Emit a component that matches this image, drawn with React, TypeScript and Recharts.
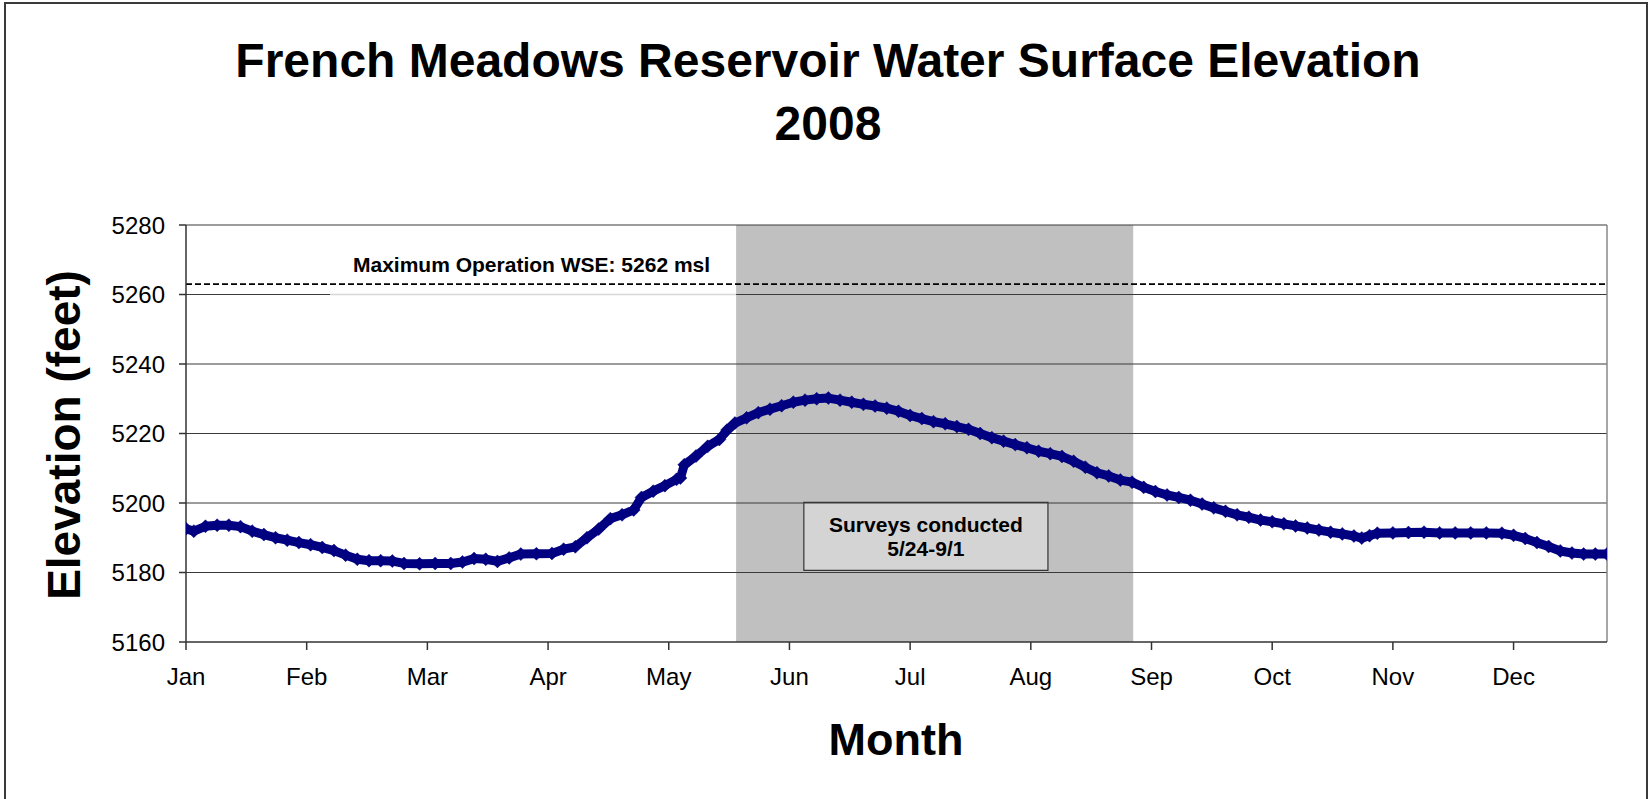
import React from "react";
import { LineChart, Line, XAxis, YAxis, ReferenceLine, ReferenceArea } from "recharts";

// Day of year (0 = Jan 1, 2008) and water surface elevation (ft)
const days = [
  0, 2, 5, 8, 11, 14, 17, 20, 23, 26,
  29, 32, 35, 38, 41, 44, 47, 50, 53, 56,
  60, 64, 68, 71, 74, 77, 80, 83, 86, 90,
  94, 97, 100, 103, 106, 109, 112, 115, 117, 120,
  123, 126, 127, 128, 131, 134, 137, 139, 141, 144,
  147, 150, 153, 156, 159, 162, 165, 168, 171, 174,
  177, 180, 183, 186, 189, 192, 195, 198, 201, 204,
  207, 210, 213, 216, 219, 222, 225, 228, 231, 234,
  237, 240, 243, 246, 249, 252, 255, 258, 261, 264,
  267, 270, 273, 276, 279, 282, 285, 288, 291, 294,
  297, 300, 302, 304, 306, 310, 314, 318, 322, 326,
  330, 334, 338, 341, 344, 347, 350, 353, 356, 359,
  362, 365,
];
const elevation = [
  5192.6, 5191.9, 5193.3, 5193.6, 5193.6, 5193.2, 5191.9, 5190.9, 5190.0, 5189.3,
  5188.6, 5188.0, 5187.2, 5186.3, 5185.0, 5183.8, 5183.4, 5183.4, 5183.3, 5182.6,
  5182.5, 5182.6, 5182.6, 5183.0, 5184.0, 5183.8, 5183.2, 5184.2, 5185.3, 5185.4,
  5185.5, 5186.7, 5187.4, 5190.0, 5192.5, 5195.5, 5196.6, 5198.0, 5201.6, 5203.4,
  5205.0, 5206.8, 5207.2, 5211.0, 5213.5, 5216.3, 5218.3, 5221.0, 5223.0, 5224.5,
  5226.0, 5227.0, 5228.0, 5229.0, 5229.6, 5230.0, 5230.2, 5229.6, 5229.0, 5228.4,
  5227.9, 5227.3, 5226.4, 5225.2, 5224.3, 5223.4, 5222.8, 5222.0, 5221.2, 5220.0,
  5218.8, 5217.8, 5216.8, 5215.9, 5214.9, 5214.2, 5213.4, 5212.0, 5210.3, 5208.7,
  5207.8, 5206.6, 5206.0, 5204.5, 5203.3, 5202.3, 5201.6, 5200.8, 5199.7, 5198.6,
  5197.6, 5196.6, 5195.9, 5195.1, 5194.6, 5194.0, 5193.4, 5192.8, 5192.2, 5191.6,
  5191.1, 5190.5, 5189.9, 5190.6, 5191.3, 5191.4, 5191.5, 5191.6, 5191.4, 5191.4,
  5191.4, 5191.4, 5191.3, 5190.7, 5189.8, 5188.6, 5187.5, 5186.2, 5185.6, 5185.3,
  5185.3, 5185.3,
];

const monthLabels = ["Jan", "Feb", "Mar", "Apr", "May", "Jun", "Jul", "Aug", "Sep", "Oct", "Nov", "Dec"];
const monthTicks = [0, 31, 62, 93, 124, 155, 186, 217, 248, 279, 310, 341];
const yTicks = [5160, 5180, 5200, 5220, 5240, 5260, 5280];
const gridLevels = [5180, 5200, 5220, 5240, 5260, 5280];

const maxOperationWSE = 5263;
const surveyShade = { start: 141.3, end: 243.3 };
const surveyBox = { x1: 158.7, x2: 221.4, y1: 5180.6, y2: 5200.2 };
const labelBoxGap = { x1: 37, x2: 141.3, y: 5260 };

const data = days.map((d, i) => ({ day: d, elev: elevation[i] }));

const FONT = "'Liberation Sans', Arial, Helvetica, sans-serif";
const NAVY = "#000080";

const MaxLabel = (props: any) => {
  const vb = props.viewBox || {};
  return (
    <text x={vb.x + 167} y={vb.y - 12} fontFamily={FONT} fontWeight="bold" fontSize={21} fill="#000">
      Maximum Operation WSE: 5262 msl
    </text>
  );
};

const SurveyLabel = (props: any) => {
  const vb = props.viewBox || {};
  const cx = vb.x + vb.width / 2;
  return (
    <g>
      <text x={cx} y={vb.y + 29.5} textAnchor="middle" fontFamily={FONT} fontWeight="bold" fontSize={21} fill="#000">
        Surveys conducted
      </text>
      <text x={cx} y={vb.y + 53.5} textAnchor="middle" fontFamily={FONT} fontWeight="bold" fontSize={21} fill="#000">
        5/24-9/1
      </text>
    </g>
  );
};

const Diamond = (props: any) => {
  const { cx, cy, index } = props;
  if (cx == null || cy == null) return null;
  const r = 6.5;
  return (
    <polygon
      key={`d-${index}`}
      points={`${cx},${cy - r} ${cx + r},${cy} ${cx},${cy + r} ${cx - r},${cy}`}
      fill={NAVY}
      stroke={NAVY}
      strokeWidth={0.5}
    />
  );
};

export default function App() {
  return (
    <div style={{ position: "absolute", left: 0, top: 0, width: 1652, height: 799, overflow: "hidden", background: "#fff" }}>
      <div
        style={{
          position: "absolute",
          left: 4,
          top: 2,
          width: 1644,
          height: 900,
          boxSizing: "border-box",
          border: "2px solid #3a3a3a",
        }}
      />
      <div style={{ position: "absolute", left: 0, top: 0 }}>
        <LineChart width={1652} height={799} data={data} margin={{ top: 225, right: 45, bottom: 117, left: 0 }}>
          <XAxis
            dataKey="day"
            type="number"
            domain={[0, 365]}
            ticks={monthTicks}
            interval={0}
            tickFormatter={(v: number) => monthLabels[monthTicks.indexOf(v)]}
            height={40}
            tickSize={8}
            tickMargin={18}
            axisLine={{ stroke: "#333", strokeWidth: 1.5 }}
            tickLine={{ stroke: "#333", strokeWidth: 1.5 }}
            tick={{ fill: "#000", fontSize: 24, fontFamily: FONT }}
            allowDataOverflow
          />
          <YAxis
            type="number"
            domain={[5160, 5280]}
            ticks={yTicks}
            interval={0}
            width={186}
            tickSize={7}
            tickMargin={14}
            axisLine={{ stroke: "#333", strokeWidth: 1.5 }}
            tickLine={{ stroke: "#333", strokeWidth: 1.5 }}
            tick={{ fill: "#000", fontSize: 24, fontFamily: FONT }}
            allowDataOverflow
          />
          <ReferenceArea
            x1={surveyShade.start}
            x2={surveyShade.end}
            y1={5160}
            y2={5280}
            fill="#c0c0c0"
            fillOpacity={1}
            stroke="none"
          />
          {gridLevels.map((g) => (
            <ReferenceLine key={g} y={g} stroke="#3a3a3a" strokeWidth={1.2} />
          ))}
          <ReferenceLine
            segment={[
              { x: labelBoxGap.x1, y: labelBoxGap.y },
              { x: labelBoxGap.x2, y: labelBoxGap.y },
            ]}
            stroke="#d8d8d8"
            strokeWidth={1.5}
          />
          <ReferenceLine x={365} stroke="#888" strokeWidth={1.5} />
          <ReferenceLine
            y={maxOperationWSE}
            stroke="#000"
            strokeWidth={1.8}
            strokeDasharray="6 3"
            label={<MaxLabel />}
          />
          <ReferenceArea
            x1={surveyBox.x1}
            x2={surveyBox.x2}
            y1={surveyBox.y1}
            y2={surveyBox.y2}
            fill="#d4d4d4"
            fillOpacity={1}
            stroke="#333"
            strokeWidth={1.2}
            label={<SurveyLabel />}
          />
          <Line
            type="linear"
            dataKey="elev"
            stroke={NAVY}
            strokeWidth={9}
            strokeLinejoin="round"
            dot={<Diamond />}
            activeDot={false}
            isAnimationActive={false}
          />
        </LineChart>
      </div>
      <svg width={1652} height={799} style={{ position: "absolute", left: 0, top: 0, pointerEvents: "none" }}>
        <text x={828} y={77} textAnchor="middle" fontFamily={FONT} fontWeight="bold" fontSize={48} fill="#000">
          French Meadows Reservoir Water Surface Elevation
        </text>
        <text x={828} y={140} textAnchor="middle" fontFamily={FONT} fontWeight="bold" fontSize={48} fill="#000">
          2008
        </text>
        <text x={896} y={755} textAnchor="middle" fontFamily={FONT} fontWeight="bold" fontSize={45} fill="#000">
          Month
        </text>
        <text
          x={0}
          y={0}
          transform="translate(80,435) rotate(-90)"
          textAnchor="middle"
          fontFamily={FONT}
          fontWeight="bold"
          fontSize={46}
          fill="#000"
        >
          Elevation (feet)
        </text>
      </svg>
    </div>
  );
}
